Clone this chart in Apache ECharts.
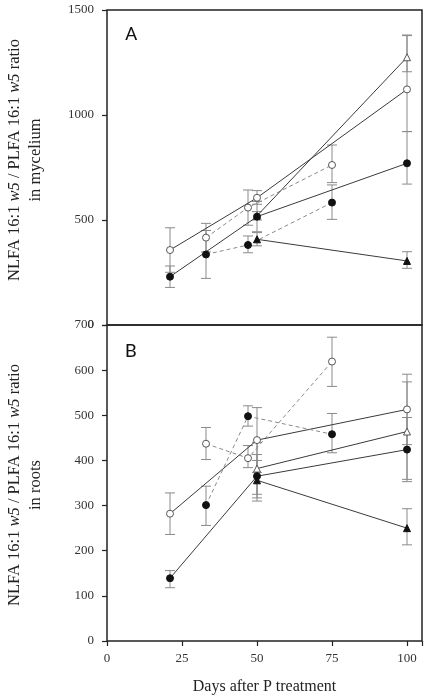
<!DOCTYPE html>
<html><head><meta charset="utf-8">
<script src="https://cdn.jsdelivr.net/npm/echarts@6/dist/echarts.min.js"></script>
<style>html,body{margin:0;padding:0;background:#fff}#c{width:428px;height:699px}</style>
</head><body><div id="c"></div>
<script>
// x positions (days after P treatment)
const daysSolid = [21, 50, 100];
const daysDash = [33, 47, 75];
const daysTri = [50, 100];
const xTicks = [0, 25, 50, 75, 100];
const yTicksMyc = [0, 500, 1000, 1500];
const yTicksRoot = [0, 100, 200, 300, 400, 500, 600, 700];

// Panel A: mycelium
const mycOpenSolid = [357, 606, 1122];
const mycOpenSolidErr = [[251, 463], [575, 640], [921, 1378]];
const mycFilledSolid = [230, 516, 770];
const mycFilledSolidErr = [[179, 281], [444, 588], [671, 921]];
const mycOpenDash = [416, 559, 762];
const mycOpenDashErr = [[348, 484], [475, 643], [678, 857]];
const mycFilledDash = [336, 381, 583];
const mycFilledDashErr = [[222, 450], [344, 424], [503, 667]];
const mycOpenTri = [520, 1275];
const mycOpenTriErr = [[500, 540], [1206, 1381]];
const mycFilledTri = [408, 305];
const mycFilledTriErr = [[377, 440], [270, 349]];

// Panel B: roots
const rootOpenSolid = [282, 445, 513];
const rootOpenSolidErr = [[236, 328], [373, 517], [435, 591]];
const rootFilledSolid = [139, 365, 424];
const rootFilledSolidErr = [[118, 156], [317, 413], [353, 495]];
const rootOpenDash = [437, 405, 619];
const rootOpenDashErr = [[402, 473], [384, 433], [564, 673]];
const rootFilledDash = [301, 498, 458];
const rootFilledDashErr = [[256, 343], [476, 521], [417, 504]];
const rootOpenTri = [382, 464];
const rootOpenTriErr = [[325, 440], [358, 574]];
const rootFilledTri = [356, 250];
const rootFilledTriErr = [[310, 400], [213, 293]];

const serif = "'Liberation Serif', 'DejaVu Serif', serif";
const chart = echarts.init(document.getElementById('c'));

function errSeries(idx, xs, errs) {
  return {
    type: 'custom', xAxisIndex: idx, yAxisIndex: idx, z: 1, silent: true,
    data: xs.map((x, i) => [x, errs[i][0], errs[i][1]]),
    renderItem: function (params, api) {
      const lo = api.coord([api.value(0), api.value(1)]);
      const hi = api.coord([api.value(0), api.value(2)]);
      const w = 5;
      const st = { stroke: '#8a8a8a', lineWidth: 1 };
      return { type: 'group', children: [
        { type: 'line', shape: { x1: lo[0], y1: lo[1], x2: hi[0], y2: hi[1] }, style: st },
        { type: 'line', shape: { x1: lo[0] - w, y1: lo[1], x2: lo[0] + w, y2: lo[1] }, style: st },
        { type: 'line', shape: { x1: hi[0] - w, y1: hi[1], x2: hi[0] + w, y2: hi[1] }, style: st }
      ]};
    }
  };
}
function lineSeries(idx, xs, ys, symbol, filled, dashed) {
  return {
    type: 'line', xAxisIndex: idx, yAxisIndex: idx, z: filled ? 4 : 3,
    data: xs.map((x, i) => [x, ys[i]]),
    symbol: symbol, symbolSize: 7, showAllSymbol: true,
    lineStyle: { color: dashed ? '#8a8a8a' : '#3a3a3a', width: 1, type: dashed ? [4, 3] : 'solid' },
    itemStyle: { color: filled ? '#111' : '#fff', borderColor: filled ? '#111' : '#555', borderWidth: 1, opacity: 1 },
    emphasis: { disabled: true }, animation: false
  };
}
function panelSeries(idx, d) {
  return [
    errSeries(idx, daysSolid, d.os[1]), errSeries(idx, daysSolid, d.fs[1]),
    errSeries(idx, daysDash, d.od[1]), errSeries(idx, daysDash, d.fd[1]),
    errSeries(idx, daysTri, d.ot[1]), errSeries(idx, daysTri, d.ft[1]),
    lineSeries(idx, daysDash, d.od[0], 'circle', false, true),
    lineSeries(idx, daysDash, d.fd[0], 'circle', true, true),
    lineSeries(idx, daysTri, d.ot[0], 'triangle', false, false),
    lineSeries(idx, daysSolid, d.os[0], 'circle', false, false),
    lineSeries(idx, daysSolid, d.fs[0], 'circle', true, false),
    lineSeries(idx, daysTri, d.ft[0], 'triangle', true, false)
  ];
}
const mycData = { os: [mycOpenSolid, mycOpenSolidErr], fs: [mycFilledSolid, mycFilledSolidErr],
  od: [mycOpenDash, mycOpenDashErr], fd: [mycFilledDash, mycFilledDashErr],
  ot: [mycOpenTri, mycOpenTriErr], ft: [mycFilledTri, mycFilledTriErr] };
const rootData = { os: [rootOpenSolid, rootOpenSolidErr], fs: [rootFilledSolid, rootFilledSolidErr],
  od: [rootOpenDash, rootOpenDashErr], fd: [rootFilledDash, rootFilledDashErr],
  ot: [rootOpenTri, rootOpenTriErr], ft: [rootFilledTri, rootFilledTriErr] };

function xAxisCfg(idx, showLabels) {
  return {
    type: 'value', gridIndex: idx, min: 0, max: 105, interval: 25,
    axisLine: { show: false }, splitLine: { show: false },
    axisTick: { show: showLabels, length: 5, lineStyle: { color: '#222', width: 1.2 } },
    axisLabel: { show: showLabels, margin: 11, fontFamily: serif, fontSize: 13, color: '#333',
      formatter: v => (xTicks.indexOf(v) >= 0 ? String(v) : '') },
    name: showLabels ? 'Days after P treatment' : '', nameLocation: 'middle', nameGap: 38,
    nameTextStyle: { fontFamily: serif, fontSize: 16, color: '#222' }
  };
}
function yAxisCfg(idx, max, interval, ticks) {
  return {
    type: 'value', gridIndex: idx, min: 0, max: max, interval: interval,
    axisLine: { show: false }, splitLine: { show: false },
    axisTick: { show: true, length: 5, lineStyle: { color: '#222', width: 1.2 } },
    axisLabel: { margin: 13, fontFamily: serif, fontSize: 13, color: '#333',
      formatter: v => (ticks.indexOf(v) >= 0 ? String(v) : '') }
  };
}
const rich = { i: { fontFamily: serif, fontSize: 16.5, fontStyle: 'italic', fill: '#222' } };
function titleText(x, y, txt) {
  return { type: 'text', x: x, y: y, rotation: Math.PI / 2,
    style: { text: txt, rich: rich, font: '16.5px ' + serif, fill: '#222', align: 'center', verticalAlign: 'middle' } };
}
chart.setOption({
  animation: false,
  grid: [
    { left: 107, top: 10, width: 315, height: 315, show: true, borderColor: '#222', borderWidth: 1.5, backgroundColor: 'transparent' },
    { left: 107, top: 325, width: 315, height: 316, show: true, borderColor: '#222', borderWidth: 1.5, backgroundColor: 'transparent' }
  ],
  xAxis: [xAxisCfg(0, false), xAxisCfg(1, true)],
  yAxis: [yAxisCfg(0, 1500, 500, yTicksMyc), yAxisCfg(1, 700, 100, yTicksRoot)],
  graphic: [
    { type: 'text', left: 125, top: 26, style: { text: 'A', font: '19px Roboto, sans-serif', fill: '#111' } },
    { type: 'text', left: 125, top: 343, style: { text: 'B', font: '19px Roboto, sans-serif', fill: '#111' } },
    titleText(15, 160, 'NLFA 16:1 {i|w5} / PLFA 16:1 {i|w5} ratio'),
    titleText(36, 160, 'in mycelium'),
    titleText(15, 485, 'NLFA 16:1 {i|w5} / PLFA 16:1 {i|w5} ratio'),
    titleText(36, 485, 'in roots')
  ],
  series: panelSeries(0, mycData).concat(panelSeries(1, rootData))
});
</script></body></html>
